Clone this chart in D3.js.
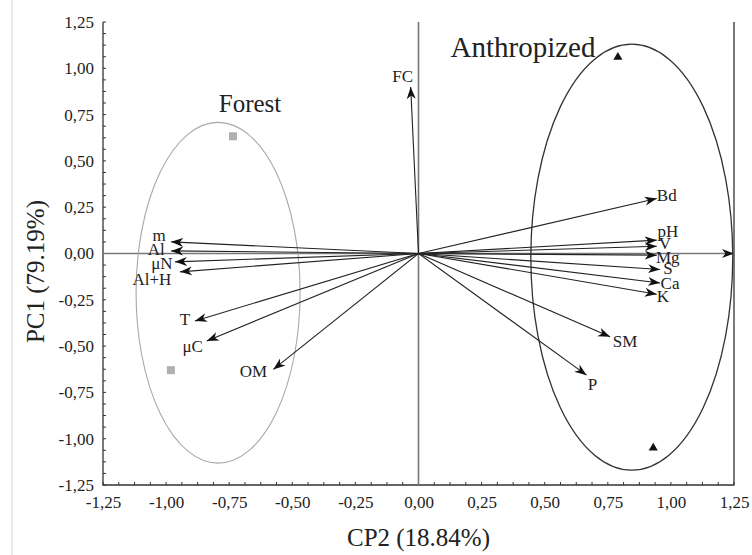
<!DOCTYPE html>
<html>
<head>
<meta charset="utf-8">
<script src="https://cdn.jsdelivr.net/npm/d3@7"></script>
<style>
	body { margin: 0; background: #fff; }
	svg { display: block; }
	svg text { font-family: "Liberation Serif", "DejaVu Serif", serif; }
</style>
</head>
<body>
<div id="chart"></div>
<script>
// variable loadings (CP2, PC1)
const varNames = ['m', 'Al', 'μN', 'Al+H', 'T', 'μC', 'OM', 'FC', 'Bd', 'pH', 'V', 'Mg', 'S', 'Ca', 'K', 'SM', 'P'];
const varX = [-0.98, -0.98, -0.965, -0.945, -0.886, -0.839, -0.575, -0.031, 0.944, 0.944, 0.944, 0.944, 0.957, 0.957, 0.944, 0.759, 0.666];
const varY = [0.063, 0.014, -0.045, -0.099, -0.364, -0.472, -0.626, 0.899, 0.297, 0.072, 0.039, -0.009, -0.086, -0.159, -0.22, -0.45, -0.657];

// sample scores
const forestX = [-0.735, -0.981];
const forestY = [0.633, -0.63];
const anthroX = [0.79, 0.93];
const anthroY = [1.06, -1.05];

// group ellipses: cx, cy, rx, ry
const groupNames = ['Forest', 'Anthropized'];
const groupEllipse = [[-0.794, -0.212, 0.325, 0.92], [0.845, -0.02, 0.4, 1.15]];

const ticks = [-1.25, -1, -0.75, -0.5, -0.25, 0, 0.25, 0.5, 0.75, 1, 1.25];

const width = 752, height = 555;
const margin = {left: 103, right: 18, top: 22, bottom: 70};
const serif = '"Liberation Serif", "DejaVu Serif", serif';

const svg = d3.select('#chart').append('svg')
	.attr('width', width)
	.attr('height', height)
	.attr('font-family', serif);

const x = d3.scaleLinear().domain([-1.25, 1.25]).range([margin.left, width - margin.right]);
const y = d3.scaleLinear().domain([-1.25, 1.25]).range([height - margin.bottom, margin.top]);

const loc = d3.formatLocale({decimal: ',', thousands: '.', grouping: [3], currency: ['', ''], minus: '-'});
const fmt = loc.format('.2f');

// faint page border at left
svg.append('line')
	.attr('x1', 12).attr('x2', 12).attr('y1', 0).attr('y2', height)
	.attr('stroke', '#e2e2e2').attr('stroke-width', 1.5);

const defs = svg.append('defs');
defs.append('marker')
	.attr('id', 'head')
	.attr('viewBox', '0 -5 12 10')
	.attr('refX', 12).attr('refY', 0)
	.attr('markerWidth', 12).attr('markerHeight', 10)
	.attr('markerUnits', 'userSpaceOnUse')
	.attr('orient', 'auto')
	.append('path')
	.attr('d', 'M0,-4.5L12,0L0,4.5L3.5,0Z')
	.attr('fill', '#111');

// axes with inward ticks
const minor = d3.range(-1.25, 1.2501, 0.0625);
const xAxis = d3.axisBottom(x).tickValues(ticks).tickFormat(fmt).tickSize(0).tickPadding(11);
const yAxis = d3.axisLeft(y).tickValues(ticks).tickFormat(fmt).tickSize(0).tickPadding(9);

svg.append('g')
	.attr('transform', `translate(0,${y(-1.25)})`)
	.call(xAxis)
	.attr('font-family', serif)
	.call(g => g.select('.domain').remove())
	.call(g => g.selectAll('text').attr('font-size', 17).attr('fill', '#222'));

svg.append('g')
	.attr('transform', `translate(${x(-1.25)},0)`)
	.call(yAxis)
	.attr('font-family', serif)
	.call(g => g.select('.domain').remove())
	.call(g => g.selectAll('text').attr('font-size', 17).attr('fill', '#222'));

const tk = svg.append('g').attr('stroke', '#333').attr('stroke-width', 1);
tk.selectAll('.mx').data(minor).enter().append('line')
	.attr('x1', d => x(d)).attr('x2', d => x(d))
	.attr('y1', y(-1.25)).attr('y2', y(-1.25) - 3);
tk.selectAll('.my').data(minor).enter().append('line')
	.attr('y1', d => y(d)).attr('y2', d => y(d))
	.attr('x1', x(-1.25)).attr('x2', x(-1.25) + 3);

// frame: left, bottom and right
svg.append('path')
	.attr('d', `M${x(-1.25)},${y(1.25)}V${y(-1.25)}H${x(1.25)}V${y(1.25)}`)
	.attr('fill', 'none').attr('stroke', '#333').attr('stroke-width', 1.3);

// reference lines
svg.append('line')
	.attr('x1', x(0)).attr('x2', x(0)).attr('y1', y(1.25)).attr('y2', y(-1.25))
	.attr('stroke', '#777').attr('stroke-width', 1.6);
svg.append('line')
	.attr('x1', x(-1.25)).attr('x2', x(1.25)).attr('y1', y(0)).attr('y2', y(0))
	.attr('stroke', '#777').attr('stroke-width', 1.6)
	.attr('marker-end', 'url(#head)');

// ellipses
svg.selectAll('.ell')
	.data(groupEllipse)
	.enter().append('ellipse')
	.attr('cx', d => x(d[0]))
	.attr('cy', d => y(d[1]))
	.attr('rx', d => x(d[2]) - x(0))
	.attr('ry', d => y(0) - y(d[3]))
	.attr('fill', 'none')
	.attr('stroke', (d, i) => i === 0 ? '#a8a8a8' : '#333')
	.attr('stroke-width', (d, i) => i === 0 ? 1.1 : 1.3);

svg.append('text').attr('x', 250).attr('y', 112).attr('text-anchor', 'middle')
	.attr('font-size', 25).attr('fill', '#222').text(groupNames[0]);
svg.append('text').attr('x', 523).attr('y', 57).attr('text-anchor', 'middle')
	.attr('font-size', 29).attr('fill', '#222').text(groupNames[1]);

// arrows
const vars = varNames.map((n, i) => ({name: n, x: varX[i], y: varY[i]}));
svg.append('g')
	.selectAll('line')
	.data(vars)
	.enter().append('line')
	.attr('x1', x(0)).attr('y1', y(0))
	.attr('x2', d => x(d.x)).attr('y2', d => y(d.y))
	.attr('stroke', '#222').attr('stroke-width', 1.1)
	.attr('marker-end', 'url(#head)');

// label offsets from arrow tip
const lblDx = {m: -12, Al: -15, 'μN': -13, 'Al+H': -28, T: -10, 'μC': -14, OM: -20, FC: -8, Bd: 10, pH: 11, V: 8, Mg: 11, S: 8, Ca: 10, K: 6, SM: 15, P: 6};
const lblDy = {m: -6, Al: -1, 'μN': 2, 'Al+H': 8, T: -1, 'μC': 6, OM: 3, FC: -10, Bd: -2, pH: -8, V: -2, Mg: 3, S: 0, Ca: 1, K: 3, SM: 5, P: 10};
svg.append('g')
	.selectAll('text')
	.data(vars)
	.enter().append('text')
	.attr('x', d => x(d.x) + lblDx[d.name])
	.attr('y', d => y(d.y) + lblDy[d.name] + 5)
	.attr('text-anchor', 'middle')
	.attr('font-size', 17)
	.attr('fill', '#222')
	.text(d => d.name);

// points
svg.append('g').selectAll('rect')
	.data(forestX.map((v, i) => [v, forestY[i]]))
	.enter().append('rect')
	.attr('x', d => x(d[0]) - 4).attr('y', d => y(d[1]) - 4)
	.attr('width', 8).attr('height', 8)
	.attr('fill', '#b0b0b0');

svg.append('g').selectAll('path')
	.data(anthroX.map((v, i) => [v, anthroY[i]]))
	.enter().append('path')
	.attr('transform', d => `translate(${x(d[0])},${y(d[1])})`)
	.attr('d', d3.symbol(d3.symbolTriangle, 36))
	.attr('fill', '#111');

// axis titles
svg.append('text')
	.attr('transform', `translate(44,${y(0) + 18}) rotate(-90)`)
	.attr('text-anchor', 'middle')
	.attr('font-size', 25).attr('fill', '#222')
	.text('PC1 (79.19%)');
svg.append('text')
	.attr('x', x(0)).attr('y', 546)
	.attr('text-anchor', 'middle')
	.attr('font-size', 25).attr('fill', '#222')
	.text('CP2 (18.84%)');
</script>
</body>
</html>
